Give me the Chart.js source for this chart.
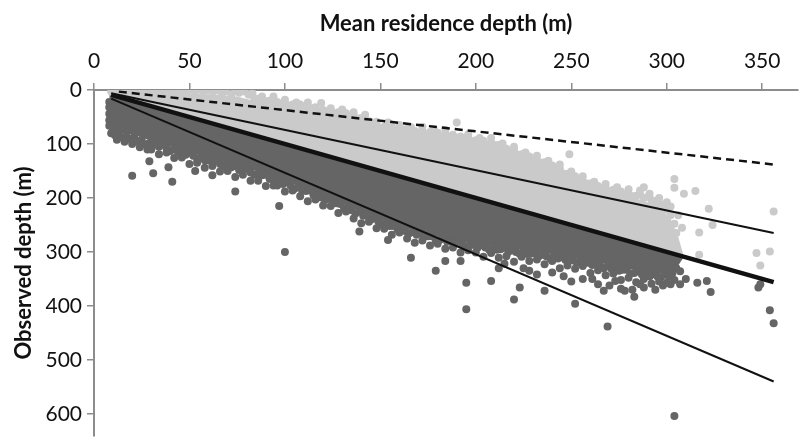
<!DOCTYPE html>
<html>
<head>
<meta charset="utf-8">
<script src="https://cdn.jsdelivr.net/npm/chart.js@4"></script>
<style>
  html, body { margin: 0; padding: 0; background: #fff; }
  #wrap { width: 802px; height: 440px; position: relative; }
</style>
</head>
<body>
<div id="wrap"><canvas id="myChart"></canvas></div>
<script>

// axis ticks
var xTickValues = [0, 50, 100, 150, 200, 250, 300, 350];
var yTickValues = [0, 100, 200, 300, 400, 500, 600];

// reference lines, [mean depth, observed depth] end points
var dashedLine = [[13, 3], [356, 138]];
var upperLine  = [[9, 6], [356, 265]];
var oneToOne   = [[9, 9], [356, 356]];
var lowerLine  = [[9, 16], [356, 540]];

// saturated part of the cloud: top of the light band, bottom of the dark band
var coreX          = [8, 10, 20, 30, 45, 60, 75, 90, 105, 120, 135, 150, 165, 180, 195, 210, 225, 240, 255, 265, 275, 285, 295, 302, 306, 309];
var lightCoreTop   = [7, 4, 5, 5, 5, 8, 12, 26, 32, 42, 52, 72, 80, 86, 94, 106, 126, 146, 172, 186, 194, 202, 214, 238, 272, 309];
var darkCoreBottom = [76, 78, 82, 94, 110, 126, 140, 155, 175, 195, 218, 240, 258, 272, 282, 290, 297, 304, 313, 320, 328, 335, 340, 338, 325, 309];

// observations shallower than the mean (light)
var lightPts = [
	// along the surface
	[9,3],[11,1],[14,4],[16,2],[19,0],[22,3],[25,5],[27,1],[30,2],[33,4],[35,0],[38,3],[41,1],[44,5],[46,2],
	[49,0],[52,1],[54,0],[57,2],[59,0],[62,4],[64,1],[67,6],[69,3],[72,8],[74,2],[76,5],[79,3],[81,9],[83,6],
	// upper edge of the cloud
	[84,17],[86,16],[88,23],[90,21],[92,20],[94,26],[96,22],[98,26],[100,23],[102,30],[104,27],[106,30],
	[108,27],[110,33],[112,31],[114,34],[116,32],[118,40],[120,37],[122,40],[124,38],[126,44],[128,41],
	[130,45],[132,43],[134,50],[136,48],[138,53],[140,52],[142,59],[144,58],[146,63],[148,62],[150,71],
	[152,68],[154,71],[156,68],[158,74],[160,71],[162,74],[164,72],[166,79],[168,76],[170,79],[172,76],
	[174,82],[176,78],[178,81],[180,79],[182,86],[184,83],[186,86],[188,83],[190,89],[192,86],[194,89],
	[196,88],[198,95],[200,93],[202,97],[204,94],[206,101],[208,98],[210,102],[212,102],[214,110],[216,109],
	[218,114],[220,112],[222,120],[224,119],[226,123],[228,123],[230,132],[232,130],[234,135],[236,134],
	[238,141],[240,140],[242,146],[244,146],[246,155],[248,155],[250,160],[252,160],[254,168],[256,168],
	[258,173],[260,173],[262,180],[264,178],[266,183],[268,181],[270,188],[272,185],[274,190],[276,188],
	[278,195],[280,192],[282,197],[284,196],[286,194],[288,200],[290,198],[292,204],[294,206],[296,210],
	[298,214],[300,222],[302,232],[304,248],[305,265],
	// loose points just above the edge
	[88,12],[94,12],[100,18],[106,23],[112,23],[119,24],[124,34],[130,36],[136,41],[142,46],[148,59],
	[154,60],[160,65],[166,69],[172,68],[178,73],[184,74],[190,60],[196,82],[202,89],[208,89],[214,99],
	[220,105],[226,116],[232,122],[238,131],[244,138],[249,119],[250,151],[256,160],[262,170],[268,174],
	[274,180],[280,184],[286,186],[288,180],[291,192],[296,200],[300,208],
	// sparse deep end
	[302,216],[302,250],[304,165],[304,181],[306,232],[308,255],[298,269],[301,290],[298,287],
	[309,192],[315,187],[322,220],[324,250],[317,264],[317,305],
	[347,302],[354,299],[349,325],[356,225]
];

// observations deeper than the mean (dark)
var darkPts = [
	// left edge and bottom near the origin
	[8,22],[8,32],[8,44],[8,56],[8,66],[9,80],[11,84],[13,81],[15,88],[17,85],[19,91],[21,86],[23,95],
	[25,92],[27,101],[29,98],[12,92],[16,96],[20,100],[24,106],[28,110],
	// lower edge, 30 - 95
	[32,100],[34,105],[36,101],[38,108],[40,113],[42,109],[44,115],[46,114],[48,120],[50,116],[52,122],
	[54,128],[56,124],[58,130],[60,130],[62,135],[64,131],[66,137],[68,141],[70,138],[72,143],[74,141],
	[76,148],[78,147],[80,146],[82,153],[84,157],[86,154],[88,158],[90,157],[92,165],[94,164],
	[30,110],[34,119],[38,116],[42,126],[46,125],[50,137],[54,135],[58,144],[62,141],[66,151],[70,150],
	[74,161],[78,157],[82,168],[86,168],[90,178],[94,177],
	[20,159],[29,132],[31,154],[39,143],[41,170],[74,188],[53,150],[62,158],
	// lower edge, 95 - 200
	[97,167],[99,174],[101,171],[103,177],[105,183],[107,180],[109,186],[111,187],[113,186],[115,195],
	[117,194],[119,199],[121,204],[123,201],[125,209],[127,210],[129,211],[131,219],[133,218],[135,223],
	[137,229],[139,225],[141,233],[143,233],[145,240],[147,238],[149,244],[151,249],[153,245],[155,252],
	[157,252],[159,258],[161,255],[163,261],[165,266],[167,263],[169,268],[171,265],[173,272],[175,271],
	[177,271],[179,279],[181,278],[183,275],[185,281],[187,280],[189,285],[191,281],[193,286],[195,290],[197,286],
	[96,177],[100,188],[104,186],[108,197],[112,206],[116,203],[120,214],[124,215],[128,228],[132,225],
	[136,238],[140,247],[144,244],[148,256],[152,257],[156,268],[160,264],[164,275],[168,283],[172,279],
	[176,288],[180,285],[184,294],[188,292],[192,301],[196,297],
	[97,215],[100,300],[139,262],[154,278],[166,311],[179,335],[184,317],[192,317],[195,357],[195,406],[208,354],
	// lower edge, 200 - 305
	[199,287],[201,292],[203,287],[205,292],[207,296],[209,291],[211,296],[213,295],[215,292],[217,300],
	[219,297],[221,300],[223,304],[225,298],[227,304],[229,303],[231,302],[233,308],[235,305],[237,308],
	[239,312],[241,306],[243,312],[245,310],[247,315],[249,311],[251,316],[253,320],[255,314],[257,320],
	[259,320],[261,324],[263,321],[265,325],[267,330],[269,326],[271,331],[273,327],[275,335],[277,333],
	[279,333],[281,340],[283,339],[285,336],[287,342],[289,340],[291,345],[293,341],[295,345],[297,347],
	[299,342],[301,344],[303,339],[305,330],
	[200,301],[204,309],[208,302],[212,311],[216,308],[220,318],[224,309],[228,317],[232,314],[236,323],
	[240,317],[244,330],[248,325],[252,331],[256,326],[260,339],[264,334],[268,343],[272,340],[276,352],
	[280,348],[284,356],[288,350],[292,359],[296,355],[300,357],[304,352],
	// scattered deep points
	[212,330],[215,322],[228,335],[240,338],[246,345],[250,355],[256,350],[264,360],[270,362],[276,368],
	[282,370],[288,366],[294,370],[298,362],
	[220,388],[223,366],[225,330],[232,342],[236,372],[252,396],[261,350],[267,372],[269,438],[273,354],
	[278,372],[283,383],[286,360],[291,345],[296,326],[302,345],[302,360],[307,360],[307,336],[310,350],
	[304,604],[316,357],[321,354],[323,374],[348,366],[349,360],[354,408],[356,432]
];

var toXY = pts => pts.map( p => ({ x: p[0], y: p[1] }) );

var lineSet = (pts, width, dash) => ({
	data: toXY( pts ),
	showLine: true,
	borderColor: "#111",
	borderWidth: width,
	borderDash: dash || [],
	pointRadius: 0,
	fill: false
});

var bandSet = (ys, color, fill) => ({
	data: coreX.map( (x,i) => ({ x: x, y: ys[i] }) ),
	showLine: true,
	borderColor: "rgba(0,0,0,0)",
	borderWidth: 0,
	backgroundColor: color,
	pointRadius: 0,
	fill: fill
});

var dotSet = (pts, color) => ({
	data: toXY( pts ),
	pointRadius: 4,
	pointBorderWidth: 0,
	pointBackgroundColor: color,
	backgroundColor: color
});

var tickFont  = { family: "Lato", size: 21 };
var titleFont = { family: "Lato", size: 22, weight: "bold" };
var axisGrey  = "#8c8c8c";

new Chart("myChart", {
	type: "scatter",
	data: {
		datasets: [
			lineSet( dashedLine, 2.5, [8,5] ),
			lineSet( upperLine, 2 ),
			lineSet( oneToOne, 4.5 ),
			lineSet( lowerLine, 2 ),
			dotSet( lightPts, "#cacaca" ),
			dotSet( darkPts, "#656565" ),
			bandSet( lightCoreTop, "#cacaca", "+1" ),
			bandSet( coreX, "rgba(0,0,0,0)", false ),
			bandSet( darkCoreBottom, "#656565", "-1" )
		]
	},
	options: {
		responsive: true,
		maintainAspectRatio: false,
		devicePixelRatio: 1,
		animation: false,
		layout: { padding: 0 },
		plugins: { legend: { display: false }, tooltip: { enabled: false } },
		scales: {
			x: {
				type: "linear",
				position: "top",
				min: 0,
				max: 368.75,
				afterBuildTicks: s => { s.ticks = xTickValues.map( v => ({ value: v }) ); },
				afterFit: s => { s.height = 90; s.paddingLeft = 0; s.paddingRight = 0; },
				ticks: { font: tickFont, color: "#111", padding: 9, maxRotation: 0, autoSkip: false },
				grid: { drawOnChartArea: false, drawTicks: true, tickLength: 7, color: axisGrey, lineWidth: 1.5 },
				border: { color: axisGrey, width: 2 },
				title: { display: true, text: "Mean residence depth (m)", font: titleFont, color: "#111", padding: { top: 11, bottom: 0 } }
			},
			y: {
				type: "linear",
				reverse: true,
				min: 0,
				max: 641,
				afterBuildTicks: s => { s.ticks = yTickValues.map( v => ({ value: v }) ); },
				afterFit: s => { s.width = 94; s.paddingTop = 0; s.paddingBottom = 0; },
				ticks: { font: tickFont, color: "#111", padding: 5, autoSkip: false },
				grid: { drawOnChartArea: false, drawTicks: true, tickLength: 7, color: axisGrey, lineWidth: 1.5 },
				border: { color: axisGrey, width: 2 },
				title: { display: true, text: "Observed depth (m)", font: titleFont, color: "#111", padding: { top: 11, bottom: 0 } }
			}
		}
	}
});

</script>
</body>
</html>
